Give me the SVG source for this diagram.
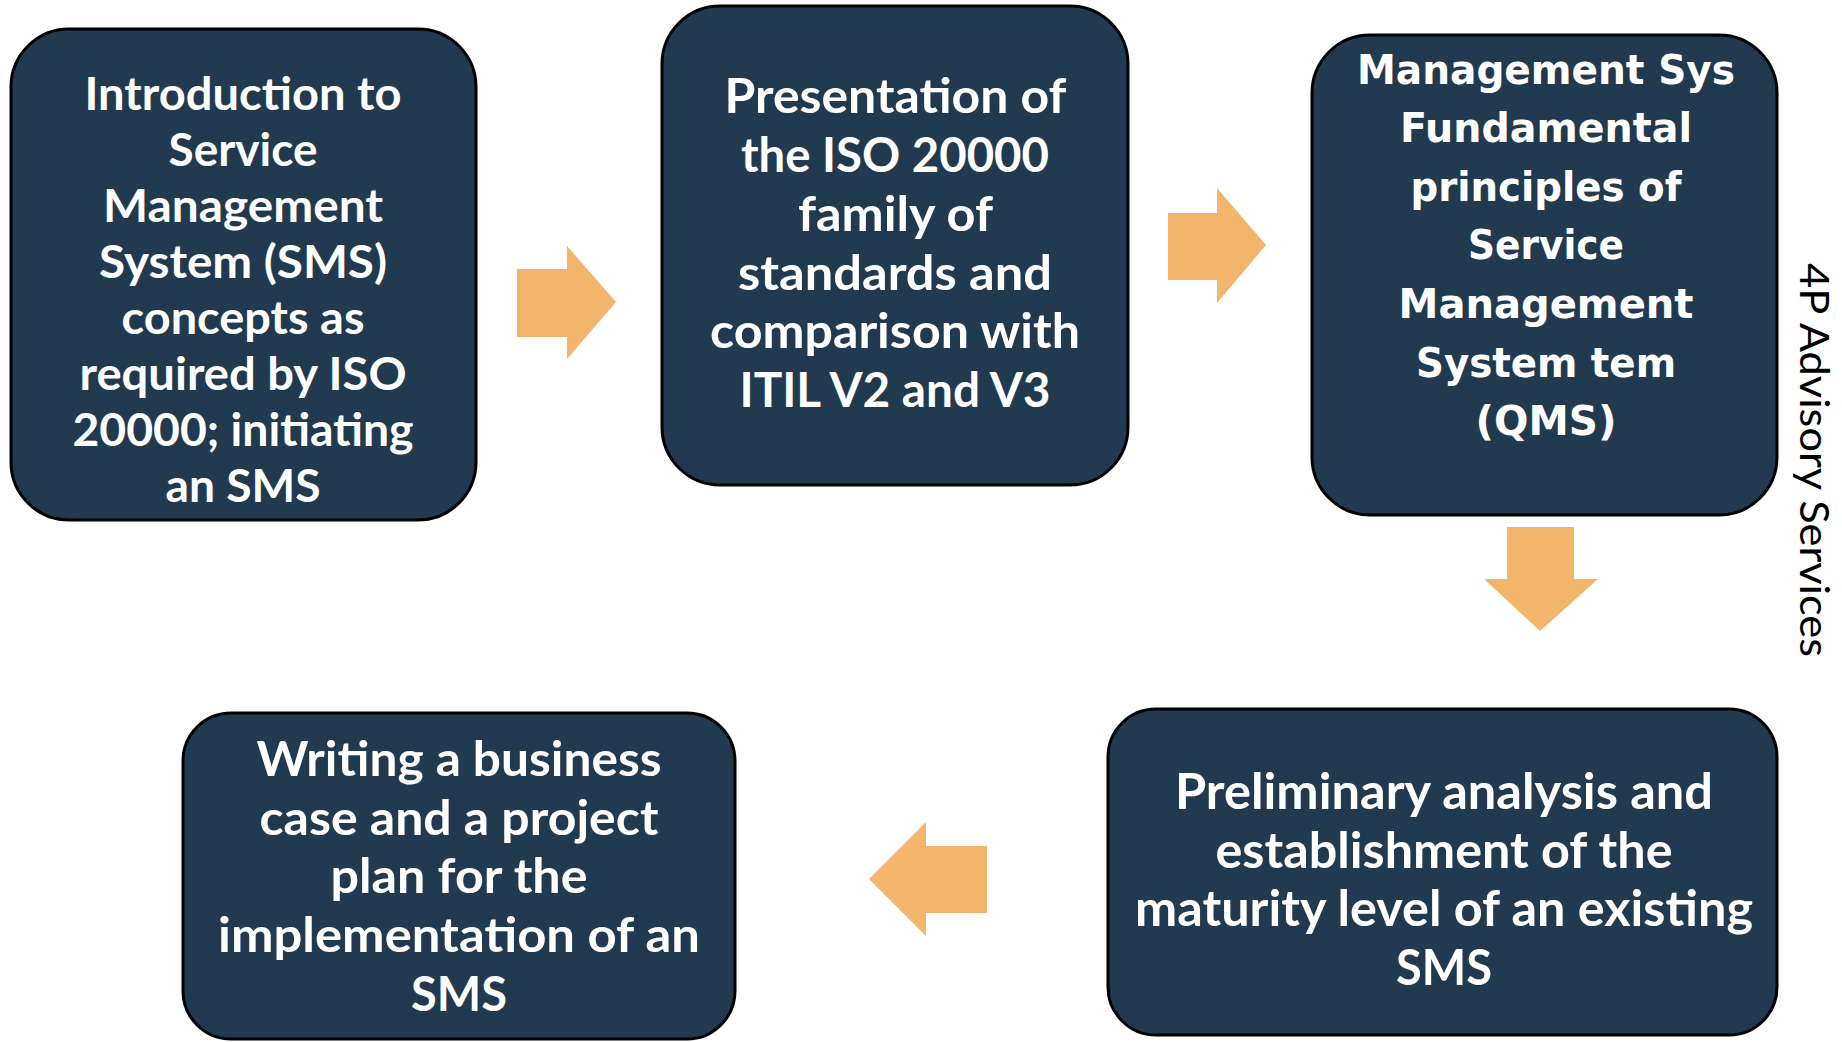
<svg xmlns="http://www.w3.org/2000/svg" width="1842" height="1042" viewBox="0 0 1842 1042">
<style>
.box{fill:#213A50;stroke:#000;stroke-width:3}
.arr{fill:#F2B56B}
.t{font-family:Lato,"Open Sans",sans-serif;font-weight:bold;fill:#fff}
.t1{font-size:45px}
.t2{font-size:47px}
.t3{font-family:"DejaVu Sans",Verdana,sans-serif;font-size:40px}
.t5{font-size:50px}
.side{font-family:Lato,"Open Sans",sans-serif;font-size:40px;fill:#000}
</style>
<rect width="1842" height="1042" fill="#fff"/>
<g id="node1">
<rect class="box" x="11" y="29" width="465" height="491" rx="58"/>
<text class="t t1">
<tspan x="84.5" y="110" textLength="317" lengthAdjust="spacingAndGlyphs">Introduction to</tspan>
<tspan x="168.5" y="166" textLength="149" lengthAdjust="spacingAndGlyphs">Service</tspan>
<tspan x="103" y="222" textLength="280" lengthAdjust="spacingAndGlyphs">Management</tspan>
<tspan x="99" y="278" textLength="288" lengthAdjust="spacingAndGlyphs">System (SMS)</tspan>
<tspan x="121.5" y="334" textLength="243" lengthAdjust="spacingAndGlyphs">concepts as</tspan>
<tspan x="79.5" y="390" textLength="327" lengthAdjust="spacingAndGlyphs">required by ISO</tspan>
<tspan x="72.5" y="446" textLength="341" lengthAdjust="spacingAndGlyphs">20000; initiating</tspan>
<tspan x="165.5" y="502" textLength="155" lengthAdjust="spacingAndGlyphs">an SMS</tspan>
</text>
</g>
<g id="node2">
<rect class="box" x="662" y="6" width="466" height="479" rx="58"/>
<text class="t t2">
<tspan x="724.5" y="113" textLength="341" lengthAdjust="spacingAndGlyphs">Presentation of</tspan>
<tspan x="741" y="172" textLength="308" lengthAdjust="spacingAndGlyphs">the ISO 20000</tspan>
<tspan x="798" y="231" textLength="194" lengthAdjust="spacingAndGlyphs">family of</tspan>
<tspan x="738" y="290" textLength="314" lengthAdjust="spacingAndGlyphs">standards and</tspan>
<tspan x="710" y="348" textLength="370" lengthAdjust="spacingAndGlyphs">comparison with</tspan>
<tspan x="739.5" y="407" textLength="311" lengthAdjust="spacingAndGlyphs">ITIL V2 and V3</tspan>
</text>
</g>
<g id="node3">
<rect class="box" x="1312" y="35" width="465" height="480" rx="58"/>
<text class="t t3">
<tspan x="1357" y="84" textLength="378" lengthAdjust="spacingAndGlyphs">Management Sys</tspan>
<tspan x="1400" y="142" textLength="292" lengthAdjust="spacingAndGlyphs">Fundamental</tspan>
<tspan x="1410.5" y="201" textLength="271" lengthAdjust="spacingAndGlyphs">principles of</tspan>
<tspan x="1468" y="259" textLength="156" lengthAdjust="spacingAndGlyphs">Service</tspan>
<tspan x="1398.5" y="318" textLength="295" lengthAdjust="spacingAndGlyphs">Management</tspan>
<tspan x="1416" y="377" textLength="260" lengthAdjust="spacingAndGlyphs">System tem</tspan>
<tspan x="1475.5" y="435" textLength="141" lengthAdjust="spacingAndGlyphs">(QMS)</tspan>
</text>
</g>
<g id="node4">
<rect class="box" x="1108" y="709" width="669" height="326" rx="48"/>
<text class="t t5">
<tspan x="1175" y="809" textLength="538" lengthAdjust="spacingAndGlyphs">Preliminary analysis and</tspan>
<tspan x="1215.5" y="868" textLength="457" lengthAdjust="spacingAndGlyphs">establishment of the</tspan>
<tspan x="1135" y="926" textLength="618" lengthAdjust="spacingAndGlyphs">maturity level of an existing</tspan>
<tspan x="1396" y="985" textLength="96" lengthAdjust="spacingAndGlyphs">SMS</tspan>
</text>
</g>
<g id="node5">
<rect class="box" x="183" y="713" width="552" height="326" rx="48"/>
<text class="t t2">
<tspan x="256.5" y="776" textLength="405" lengthAdjust="spacingAndGlyphs">Writing a business</tspan>
<tspan x="259.5" y="835" textLength="399" lengthAdjust="spacingAndGlyphs">case and a project</tspan>
<tspan x="330.5" y="893" textLength="257" lengthAdjust="spacingAndGlyphs">plan for the</tspan>
<tspan x="218" y="952" textLength="482" lengthAdjust="spacingAndGlyphs">implementation of an</tspan>
<tspan x="411" y="1011" textLength="96" lengthAdjust="spacingAndGlyphs">SMS</tspan>
</text>
</g>
<g id="connectors">
<polygon class="arr" points="517,269 567,269 567,246 616,302 567,359 567,337 517,337"/>
<polygon class="arr" points="1168,213 1217,213 1217,188 1266,245 1217,303 1217,280 1168,280"/>
<polygon class="arr" points="1507,527 1574,527 1574,579 1598,579 1540,631 1484,579 1507,579"/>
<polygon class="arr" points="987,846 926,846 926,822 869,879 926,936 926,913 987,913"/>
</g>
<g id="label">
<text class="side" transform="translate(1800,263) rotate(90)" x="0" y="0" textLength="394" lengthAdjust="spacingAndGlyphs">4P Advisory Services</text>
</g>
</svg>
